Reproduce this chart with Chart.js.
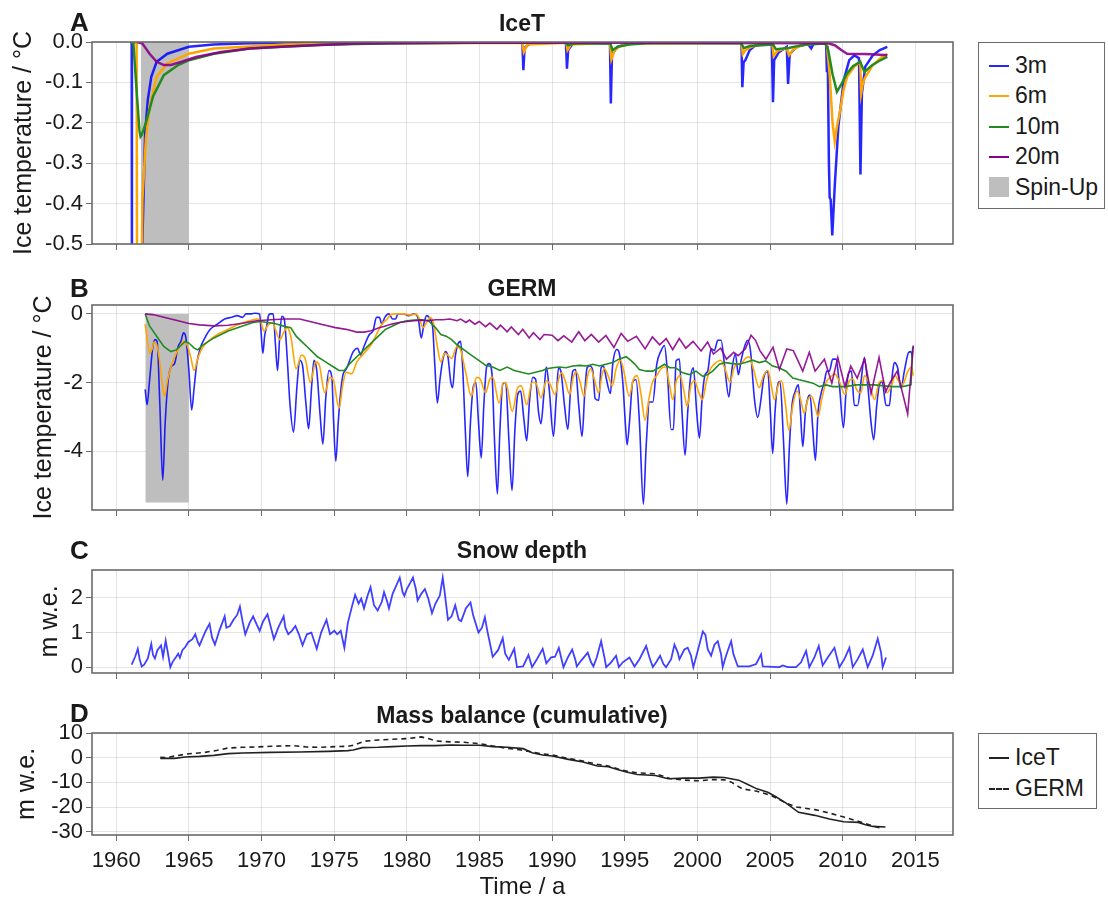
<!DOCTYPE html>
<html>
<head>
<meta charset="utf-8">
<script src="https://cdn.jsdelivr.net/npm/chart.js@4.4.1/dist/chart.umd.min.js"></script>
<style>
body { margin: 0; background: #fff; font-family: 'Liberation Sans', Arial, sans-serif; color: #1a1a1a; }
#hoja { position: relative; width: 1108px; height: 899px; overflow: hidden; }
canvas { position: absolute; left: 0; }
.letra { position: absolute; left: 70px; font-weight: bold; font-size: 26px; line-height: 26px; }
.titulo { position: absolute; left: 322px; width: 400px; text-align: center; font-weight: bold; font-size: 23px; line-height: 23px; }
.leyenda { position: absolute; box-sizing: border-box; border: 1.5px solid #6b6b6b; background: #fff; }
.muestra { position: absolute; left: 10px; width: 20px; height: 0; border-top: 2px solid; }
.cuadro { position: absolute; left: 10px; width: 20px; height: 20px; background: #bebebe; }
.texto { position: absolute; left: 36px; font-size: 23px; line-height: 23px; white-space: nowrap; }
</style>
</head>
<body>
<div id="hoja">
  <canvas id="panel_a" width="960" height="242" style="top:22px"></canvas>
  <canvas id="panel_b" width="960" height="245" style="top:285px"></canvas>
  <canvas id="panel_c" width="960" height="143" style="top:550px"></canvas>
  <canvas id="panel_d" width="960" height="186" style="top:713px"></canvas>

  <div class="letra" style="top:9px">A</div>
  <div class="titulo" style="top:12px">IceT</div>
  <div class="letra" style="top:275px">B</div>
  <div class="titulo" style="top:277px">GERM</div>
  <div class="letra" style="top:537px">C</div>
  <div class="titulo" style="top:539px">Snow depth</div>
  <div class="letra" style="top:700px">D</div>
  <div class="titulo" style="top:704px">Mass balance (cumulative)</div>

  <div class="leyenda" style="left:978px; top:42px; width:127px; height:167px">
    <div class="muestra" style="top:22px; border-color:rgba(0,0,255,0.85)"></div><div class="texto" style="top:11px">3m</div>
    <div class="muestra" style="top:52px; border-color:#ffa500"></div><div class="texto" style="top:41px">6m</div>
    <div class="muestra" style="top:83px; border-color:#228b22"></div><div class="texto" style="top:72px">10m</div>
    <div class="muestra" style="top:113px; border-color:#8b008b"></div><div class="texto" style="top:102px">20m</div>
    <div class="cuadro" style="top:134px"></div><div class="texto" style="top:133px">Spin-Up</div>
  </div>
  <div class="leyenda" style="left:978px; top:733px; width:119px; height:76px">
    <div class="muestra" style="top:23px; border-color:#222"></div><div class="texto" style="top:12px">IceT</div>
    <div class="muestra" style="top:54px; border-color:#222; border-top-style:dashed"></div><div class="texto" style="top:43px">GERM</div>
  </div>
</div>

<script>
/// ejes comunes
var anios_ticks = [1960, 1965, 1970, 1975, 1980, 1985, 1990, 1995, 2000, 2005, 2010, 2015];
var x_min = 1958.33;
var x_max = 2017.59;

var ticks_a = [0, -0.1, -0.2, -0.3, -0.4, -0.5];
var ticks_b = [0, -2, -4];
var ticks_c = [0, 1, 2];
var ticks_d = [10, 0, -10, -20, -30];

/// spin-up: [inicio, fin, fondo]
var spin_a = [1961.7, 1965.0, -0.5];
var spin_b = [1962.0, 1965.0, -5.5];

/// A - IceT, temperatura del hielo
var icet_3m = [[1961.0,0],[1961.06,-0.003],[1961.08,-0.6],[1961.72,-0.6],[1961.92,-0.32],[1961.99,-0.225],[1962.17,-0.143],[1962.41,-0.086],[1962.78,-0.049],[1963.52,-0.029],[1965.0,-0.012],[1966.7,-0.006],[1969.2,-0.003],[1975,-0.002],[1987.95,-0.002],[1988.02,-0.07],[1988.1,-0.015],[1988.4,-0.005],[1988.8,-0.002],[1990.95,-0.002],[1991.02,-0.066],[1991.1,-0.02],[1991.4,-0.005],[1991.8,-0.002],[1993.98,-0.003],[1994.04,-0.152],[1994.12,-0.03],[1994.5,-0.012],[1995.2,-0.004],[1997,-0.002],[2003.03,-0.002],[2003.09,-0.112],[2003.18,-0.05],[2003.3,-0.045],[2003.6,-0.02],[2004.0,-0.008],[2005.12,-0.004],[2005.2,-0.149],[2005.28,-0.045],[2005.6,-0.025],[2006.15,-0.012],[2006.24,-0.104],[2006.35,-0.03],[2006.8,-0.012],[2007.6,-0.005],[2007.83,-0.016],[2008.0,-0.004],[2008.86,-0.002],[2008.91,-0.075],[2008.96,-0.01],[2009.05,-0.3],[2009.1,-0.385],[2009.17,-0.39],[2009.28,-0.479],[2009.45,-0.357],[2009.7,-0.209],[2010.07,-0.094],[2010.45,-0.045],[2010.8,-0.033],[2011.12,-0.04],[2011.22,-0.328],[2011.32,-0.127],[2011.55,-0.061],[2012.07,-0.033],[2012.55,-0.02],[2013.07,-0.012]];
var icet_6m = [[1961.0,0],[1961.4,-0.003],[1961.43,-0.6],[1961.74,-0.6],[1961.8,-0.39],[1962.04,-0.24],[1962.29,-0.16],[1962.78,-0.086],[1963.52,-0.053],[1965.0,-0.029],[1966.72,-0.016],[1971.64,-0.006],[1979,-0.003],[1987.95,-0.002],[1988.05,-0.025],[1988.3,-0.006],[1990.98,-0.002],[1991.06,-0.02],[1991.3,-0.006],[1993.98,-0.002],[1994.08,-0.043],[1994.3,-0.02],[1994.7,-0.01],[1995.5,-0.004],[2003.03,-0.002],[2003.12,-0.03],[2003.3,-0.02],[2003.7,-0.012],[2004.3,-0.006],[2005.15,-0.004],[2005.25,-0.035],[2005.5,-0.022],[2006.15,-0.015],[2006.3,-0.033],[2006.6,-0.018],[2007.2,-0.008],[2008.0,-0.004],[2008.9,-0.003],[2009.1,-0.08],[2009.3,-0.2],[2009.45,-0.246],[2009.6,-0.21],[2009.83,-0.168],[2010.05,-0.12],[2010.3,-0.086],[2010.8,-0.061],[2011.2,-0.049],[2011.27,-0.127],[2011.4,-0.1],[2011.57,-0.086],[2012.07,-0.057],[2012.6,-0.04],[2013.07,-0.029]];
var icet_10m = [[1961.0,0],[1961.18,-0.003],[1961.4,-0.12],[1961.6,-0.22],[1961.67,-0.234],[1961.75,-0.23],[1962.04,-0.2],[1962.53,-0.135],[1963.27,-0.082],[1964.26,-0.057],[1965.0,-0.045],[1966.72,-0.029],[1969.18,-0.016],[1974.1,-0.007],[1979.0,-0.003],[1985,-0.002],[1990.95,-0.002],[1991.1,-0.008],[1991.5,-0.004],[1994.0,-0.003],[1994.15,-0.02],[1994.5,-0.012],[1995.3,-0.006],[1996.5,-0.003],[2003.0,-0.003],[2003.2,-0.015],[2003.6,-0.01],[2005.2,-0.006],[2005.4,-0.018],[2006.3,-0.015],[2006.6,-0.012],[2007.5,-0.006],[2008.8,-0.004],[2009.0,-0.02],[2009.3,-0.08],[2009.6,-0.123],[2009.9,-0.105],[2010.3,-0.078],[2010.7,-0.06],[2011.2,-0.049],[2011.5,-0.074],[2012.0,-0.058],[2012.5,-0.047],[2013.07,-0.037]];
var icet_20m = [[1961.43,0],[1961.8,-0.004],[1962.29,-0.029],[1962.78,-0.049],[1963.27,-0.057],[1963.76,-0.057],[1964.5,-0.049],[1965.49,-0.037],[1967.21,-0.025],[1969.18,-0.016],[1971.64,-0.011],[1976.56,-0.004],[1983.94,-0.002],[1995,-0.002],[2009.0,-0.003],[2009.45,-0.008],[2009.9,-0.02],[2010.3,-0.029],[2010.7,-0.03],[2011.5,-0.03],[2012.3,-0.031],[2013.07,-0.033]];

/// B - GERM, temperatura del hielo
var germ_3m = [[1961.99,-2.2],[1962.12,-2.65],[1962.29,-1.95],[1962.49,-1.05],[1962.66,-0.75],[1962.81,-0.8],[1963.0,-2.65],[1963.2,-4.85],[1963.37,-3.15],[1963.57,-1.95],[1963.76,-1.55],[1964.01,-1.45],[1964.26,-0.95],[1964.45,-0.8],[1964.63,-0.55],[1964.77,-0.65],[1965.0,-1.65],[1965.19,-2.8],[1965.36,-2.15],[1965.54,-1.45],[1965.78,-1.0],[1966.1,-0.7],[1966.47,-0.45],[1966.96,-0.3],[1967.46,-0.15],[1967.95,-0.1],[1968.32,-0.05],[1968.69,-0.1],[1968.93,0],[1969.3,0],[1969.55,0.02],[1969.87,0],[1969.97,-0.55],[1970.09,-1.15],[1970.21,-0.65],[1970.36,-0.35],[1970.48,-0.05],[1970.6,0],[1970.8,0],[1970.95,-0.85],[1971.1,-1.65],[1971.25,-0.65],[1971.39,-0.07],[1971.56,-0.15],[1971.76,-1.25],[1971.96,-2.65],[1972.2,-3.45],[1972.43,-2.15],[1972.62,-1.35],[1972.82,-1.5],[1973.04,-2.55],[1973.24,-3.35],[1973.44,-2.15],[1973.61,-1.35],[1973.8,-1.65],[1974.03,-2.95],[1974.22,-3.8],[1974.42,-2.45],[1974.64,-1.65],[1974.84,-1.85],[1974.96,-3.15],[1975.11,-4.3],[1975.28,-3.15],[1975.45,-2.25],[1975.62,-1.75],[1975.77,-1.65],[1975.94,-1.5],[1976.31,-1.1],[1976.61,-1.0],[1976.81,-1.2],[1977.05,-0.95],[1977.42,-0.6],[1977.67,-0.5],[1977.91,-0.1],[1978.11,-0.1],[1978.28,-0.3],[1978.48,-0.1],[1978.77,0],[1979.02,-0.15],[1979.22,-0.15],[1979.39,0],[1979.76,0],[1980.13,-0.05],[1980.5,0],[1980.79,-0.15],[1980.99,-0.7],[1981.19,-0.25],[1981.36,-0.05],[1981.6,-0.15],[1981.78,-0.4],[1981.92,-1.45],[1982.1,-2.6],[1982.27,-1.95],[1982.47,-1.35],[1982.66,-1.1],[1982.83,-1.25],[1983.01,-1.95],[1983.15,-2.15],[1983.33,-1.25],[1983.5,-0.9],[1983.7,-0.8],[1983.84,-1.55],[1984.02,-3.35],[1984.19,-4.75],[1984.38,-3.15],[1984.56,-2.15],[1984.75,-2.0],[1984.93,-3.15],[1985.12,-4.2],[1985.3,-2.65],[1985.49,-1.55],[1985.66,-1.45],[1985.86,-1.75],[1986.03,-3.65],[1986.23,-5.25],[1986.4,-3.45],[1986.6,-2.05],[1986.8,-2.0],[1987.02,-3.65],[1987.24,-5.15],[1987.44,-3.35],[1987.63,-2.35],[1987.83,-2.25],[1988.05,-3.05],[1988.25,-3.7],[1988.44,-2.55],[1988.67,-1.85],[1988.86,-1.9],[1989.06,-2.85],[1989.23,-3.2],[1989.43,-2.35],[1989.6,-1.55],[1989.8,-2.2],[1990.09,-3.57],[1990.28,-2.47],[1990.44,-1.57],[1990.6,-1.67],[1990.85,-2.67],[1991.08,-3.37],[1991.26,-2.27],[1991.42,-1.67],[1991.61,-1.62],[1991.83,-2.67],[1992.06,-3.57],[1992.25,-2.27],[1992.41,-1.57],[1992.61,-1.52],[1992.8,-1.67],[1992.96,-2.47],[1993.21,-2.52],[1993.37,-1.57],[1993.53,-1.52],[1993.72,-1.87],[1994.01,-2.32],[1994.17,-1.47],[1994.45,-1.04],[1994.63,-1.17],[1994.86,-1.97],[1995.05,-3.27],[1995.16,-3.82],[1995.32,-3.17],[1995.55,-1.97],[1995.78,-1.92],[1996.01,-3.17],[1996.28,-5.55],[1996.47,-3.87],[1996.7,-2.57],[1996.93,-2.57],[1997.2,-1.47],[1997.5,-1.07],[1997.73,-0.92],[1997.91,-1.57],[1998.19,-3.37],[1998.35,-3.37],[1998.53,-1.37],[1998.76,-1.32],[1998.94,-2.87],[1999.15,-4.12],[1999.33,-2.87],[1999.52,-1.87],[1999.72,-1.57],[1999.95,-2.87],[2000.14,-3.62],[2000.32,-2.47],[2000.53,-1.77],[2000.71,-1.67],[2000.94,-1.02],[2001.17,-1.07],[2001.4,-0.77],[2001.63,-0.77],[2001.86,-1.47],[2002.16,-2.42],[2002.39,-1.57],[2002.61,-1.17],[2002.82,-1.77],[2003.0,-1.37],[2003.23,-0.97],[2003.46,-0.77],[2003.65,-1.07],[2003.92,-2.47],[2004.15,-3.02],[2004.38,-2.47],[2004.56,-1.87],[2004.84,-1.67],[2005.02,-2.87],[2005.18,-4.07],[2005.34,-2.87],[2005.48,-2.17],[2005.69,-1.97],[2005.92,-3.67],[2006.15,-5.55],[2006.33,-3.87],[2006.51,-2.67],[2006.72,-2.27],[2006.95,-2.07],[2007.09,-2.87],[2007.25,-3.87],[2007.43,-2.87],[2007.59,-2.47],[2007.75,-2.37],[2007.94,-3.37],[2008.12,-4.27],[2008.3,-2.87],[2008.51,-2.32],[2008.74,-1.97],[2008.9,-1.67],[2009.08,-1.67],[2009.31,-1.32],[2009.54,-1.32],[2009.77,-2.07],[2010.05,-3.32],[2010.23,-2.27],[2010.41,-1.72],[2010.6,-1.67],[2010.8,-2.67],[2011.03,-2.67],[2011.26,-1.97],[2011.49,-1.27],[2011.72,-2.07],[2011.95,-3.17],[2012.13,-3.67],[2012.34,-2.67],[2012.52,-2.07],[2012.71,-1.97],[2012.98,-2.67],[2013.21,-2.67],[2013.39,-1.87],[2013.55,-1.42],[2013.78,-1.57],[2014.01,-2.17],[2014.24,-1.67],[2014.54,-1.12],[2014.7,-1.1],[2014.8,-1.3]];
var germ_6m = [[1961.99,-0.3],[1962.12,-0.7],[1962.29,-1.15],[1962.44,-1.05],[1962.61,-0.83],[1962.78,-0.9],[1962.98,-1.35],[1963.17,-2.05],[1963.32,-2.4],[1963.52,-1.95],[1963.76,-1.55],[1964.13,-1.15],[1964.38,-0.95],[1964.63,-0.8],[1964.87,-0.9],[1965.12,-1.25],[1965.36,-1.65],[1965.61,-1.3],[1965.98,-0.95],[1966.47,-0.75],[1966.96,-0.6],[1967.7,-0.45],[1968.44,-0.3],[1969.18,-0.2],[1969.72,-0.15],[1969.97,-0.25],[1970.16,-0.5],[1970.41,-0.35],[1970.78,-0.25],[1970.95,-0.45],[1971.27,-0.75],[1971.52,-0.55],[1971.76,-0.4],[1972.01,-0.65],[1972.38,-1.6],[1972.75,-1.2],[1973.0,-1.3],[1973.36,-2.0],[1973.73,-1.4],[1973.98,-1.5],[1974.35,-2.3],[1974.71,-1.85],[1974.96,-1.95],[1975.33,-2.75],[1975.58,-2.1],[1975.82,-1.7],[1976.19,-1.75],[1976.56,-1.4],[1977.05,-1.15],[1977.54,-0.9],[1977.91,-0.6],[1978.28,-0.3],[1978.65,-0.15],[1978.9,-0.02],[1979.27,0],[1979.76,0],[1980.25,-0.03],[1980.62,0],[1980.87,-0.15],[1981.11,-0.4],[1981.36,-0.25],[1981.6,-0.1],[1981.85,-0.3],[1982.1,-0.95],[1982.34,-1.4],[1982.59,-1.15],[1982.83,-1.2],[1983.08,-1.3],[1983.45,-0.95],[1983.7,-1.05],[1984.07,-1.75],[1984.43,-2.4],[1984.8,-1.85],[1985.05,-1.9],[1985.42,-2.3],[1985.71,-1.9],[1985.91,-1.85],[1986.35,-2.6],[1986.65,-2.0],[1986.85,-2.05],[1987.26,-2.85],[1987.63,-2.15],[1987.88,-2.1],[1988.25,-2.65],[1988.62,-2.0],[1988.86,-2.0],[1989.23,-2.45],[1989.6,-1.95],[1989.85,-2.05],[1990.2,-2.35],[1990.45,-1.9],[1990.65,-1.72],[1990.9,-1.95],[1991.2,-2.35],[1991.45,-1.85],[1991.65,-1.68],[1991.9,-1.95],[1992.2,-2.4],[1992.45,-1.8],[1992.65,-1.6],[1992.9,-1.9],[1993.2,-2.3],[1993.45,-1.75],[1993.6,-1.6],[1993.85,-1.8],[1994.15,-2.1],[1994.4,-1.6],[1994.7,-1.35],[1994.95,-1.7],[1995.3,-2.4],[1995.6,-1.9],[1995.85,-1.8],[1996.1,-2.3],[1996.4,-3.1],[1996.65,-2.5],[1996.9,-2.0],[1997.2,-1.8],[1997.5,-1.6],[1997.8,-1.55],[1998.05,-2.0],[1998.3,-2.5],[1998.55,-1.95],[1998.8,-1.8],[1999.05,-2.2],[1999.3,-2.7],[1999.55,-2.1],[1999.8,-1.95],[2000.1,-2.3],[2000.35,-2.5],[2000.6,-2.0],[2000.9,-1.6],[2001.2,-1.45],[2001.6,-1.35],[2001.9,-1.6],[2002.25,-2.0],[2002.5,-1.6],[2002.75,-1.45],[2003.0,-1.45],[2003.3,-1.3],[2003.55,-1.25],[2003.85,-1.6],[2004.25,-2.15],[2004.55,-1.8],[2004.85,-1.65],[2005.05,-2.0],[2005.3,-2.5],[2005.55,-2.1],[2005.8,-1.95],[2006.05,-2.6],[2006.3,-3.4],[2006.55,-2.7],[2006.85,-2.25],[2007.1,-2.5],[2007.35,-2.9],[2007.6,-2.5],[2007.85,-2.4],[2008.1,-2.7],[2008.3,-3.0],[2008.55,-2.5],[2008.85,-2.0],[2009.15,-1.85],[2009.45,-1.75],[2009.75,-1.95],[2010.15,-2.35],[2010.45,-1.95],[2010.7,-1.9],[2010.95,-2.2],[2011.25,-2.3],[2011.5,-1.8],[2011.8,-2.0],[2012.2,-2.5],[2012.5,-2.0],[2012.75,-1.95],[2013.05,-2.3],[2013.35,-2.1],[2013.6,-1.8],[2013.9,-2.0],[2014.15,-2.05],[2014.45,-1.7],[2014.75,-1.55],[2014.85,-1.8]];
var germ_10m = [[1961.99,0],[1962.29,-0.35],[1962.78,-0.65],[1963.27,-0.95],[1963.76,-1.1],[1964.13,-1.05],[1964.5,-0.9],[1964.75,-0.8],[1965.0,-0.85],[1965.36,-1.0],[1965.61,-1.05],[1965.98,-0.9],[1966.72,-0.7],[1967.7,-0.5],[1968.69,-0.35],[1969.42,-0.25],[1969.92,-0.22],[1970.41,-0.25],[1970.9,-0.28],[1971.64,-0.37],[1972.01,-0.4],[1972.38,-0.65],[1972.75,-0.8],[1973.12,-0.95],[1973.48,-1.1],[1973.85,-1.25],[1974.22,-1.35],[1974.59,-1.45],[1974.96,-1.55],[1975.33,-1.65],[1975.7,-1.65],[1976.07,-1.45],[1976.56,-1.25],[1977.05,-1.05],[1977.54,-0.85],[1978.04,-0.65],[1978.53,-0.45],[1979.02,-0.35],[1979.51,-0.25],[1980.0,-0.2],[1980.5,-0.18],[1980.99,-0.17],[1981.48,-0.2],[1981.97,-0.4],[1982.34,-0.6],[1982.71,-0.65],[1983.08,-0.75],[1983.45,-0.9],[1983.94,-1.05],[1984.43,-1.2],[1984.93,-1.35],[1985.42,-1.5],[1985.91,-1.55],[1986.4,-1.65],[1986.9,-1.55],[1987.39,-1.65],[1987.88,-1.7],[1988.37,-1.75],[1988.86,-1.7],[1989.35,-1.65],[1989.6,-1.6],[1990.05,-1.57],[1990.5,-1.55],[1990.95,-1.57],[1991.42,-1.52],[1991.9,-1.5],[1992.35,-1.52],[1992.8,-1.47],[1993.25,-1.52],[1993.7,-1.47],[1994.17,-1.42],[1994.6,-1.32],[1995.09,-1.25],[1995.4,-1.35],[1995.7,-1.47],[1996.0,-1.62],[1996.5,-1.67],[1996.93,-1.67],[1997.35,-1.57],[1997.73,-1.47],[1998.1,-1.57],[1998.5,-1.57],[1998.99,-1.72],[1999.45,-1.77],[1999.9,-1.67],[2000.37,-1.82],[2000.7,-1.77],[2001.05,-1.67],[2001.51,-1.47],[2001.95,-1.42],[2002.4,-1.45],[2002.85,-1.47],[2003.3,-1.42],[2003.8,-1.35],[2004.25,-1.42],[2004.7,-1.37],[2005.18,-1.52],[2005.6,-1.57],[2006.1,-1.67],[2006.56,-1.87],[2007.0,-1.92],[2007.5,-1.97],[2007.95,-2.02],[2008.39,-2.12],[2008.85,-2.07],[2009.3,-2.12],[2009.77,-2.12],[2010.2,-2.12],[2010.9,-2.07],[2011.6,-2.07],[2012.2,-2.07],[2012.8,-2.1],[2013.44,-2.12],[2014.1,-2.12],[2014.7,-2.07],[2014.82,-0.95]];
var germ_20m = [[1961.99,0],[1962.53,-0.02],[1963.27,-0.1],[1964.26,-0.2],[1965.0,-0.28],[1965.73,-0.32],[1966.72,-0.35],[1967.7,-0.33],[1968.69,-0.27],[1969.67,-0.2],[1970.65,-0.17],[1971.64,-0.15],[1972.62,-0.15],[1973.12,-0.2],[1973.61,-0.25],[1974.1,-0.3],[1975.08,-0.4],[1975.82,-0.45],[1976.56,-0.53],[1977.05,-0.53],[1977.54,-0.49],[1978.04,-0.41],[1978.53,-0.35],[1979.02,-0.29],[1979.51,-0.25],[1980.0,-0.22],[1980.5,-0.2],[1980.99,-0.18],[1981.48,-0.2],[1981.97,-0.17],[1982.47,-0.17],[1982.96,-0.15],[1983.45,-0.2],[1983.7,-0.15],[1984.07,-0.25],[1984.31,-0.18],[1984.68,-0.3],[1984.98,-0.22],[1985.42,-0.37],[1985.71,-0.27],[1986.2,-0.45],[1986.45,-0.33],[1986.9,-0.52],[1987.19,-0.38],[1987.68,-0.6],[1987.98,-0.45],[1988.42,-0.7],[1988.71,-0.55],[1989.16,-0.75],[1989.45,-0.6],[1990.0,-0.62],[1990.4,-0.78],[1990.8,-0.64],[1991.35,-0.82],[1991.83,-0.52],[1992.25,-0.78],[1992.7,-0.6],[1993.2,-0.82],[1993.7,-0.63],[1994.25,-0.98],[1994.75,-0.57],[1995.2,-0.8],[1995.8,-0.65],[1996.4,-1.02],[1996.9,-0.67],[1997.4,-0.9],[1997.85,-0.72],[1998.3,-1.04],[1998.75,-0.72],[1999.2,-1.0],[1999.7,-0.8],[2000.25,-1.08],[2000.7,-0.82],[2001.1,-1.17],[2001.6,-1.0],[2002.0,-1.32],[2002.5,-1.12],[2002.8,-1.22],[2003.3,-1.02],[2003.69,-0.62],[2004.0,-0.77],[2004.3,-1.07],[2004.72,-1.32],[2005.2,-0.97],[2005.64,-1.62],[2006.15,-1.02],[2006.6,-1.07],[2007.25,-1.67],[2007.7,-1.12],[2008.1,-1.67],[2008.74,-1.32],[2009.25,-2.02],[2009.66,-1.27],[2010.15,-2.12],[2010.55,-1.52],[2011.0,-1.87],[2011.5,-1.32],[2011.95,-2.32],[2012.5,-1.27],[2012.95,-2.27],[2013.3,-1.97],[2013.75,-1.67],[2014.47,-2.92],[2014.86,-0.92]];

/// C - espesor de nieve
var nieve = [[1961.06,0.07],[1961.3,0.3],[1961.48,0.53],[1961.6,0.25],[1961.75,0.02],[1961.92,0.07],[1962.17,0.25],[1962.41,0.67],[1962.53,0.35],[1962.66,0.25],[1962.83,0.49],[1963.08,0.63],[1963.22,0.3],[1963.4,0.77],[1963.52,0.49],[1963.72,0.0],[1963.89,0.16],[1964.13,0.3],[1964.26,0.39],[1964.38,0.27],[1964.55,0.49],[1964.75,0.58],[1964.95,0.72],[1965.24,0.81],[1965.44,0.95],[1965.61,0.72],[1965.73,0.63],[1966.1,1.0],[1966.27,1.14],[1966.42,1.25],[1966.59,0.86],[1966.79,0.65],[1967.09,1.05],[1967.46,1.47],[1967.58,1.14],[1967.82,1.19],[1968.07,1.37],[1968.32,1.51],[1968.51,1.75],[1968.69,1.33],[1968.88,0.95],[1969.18,1.28],[1969.42,1.47],[1969.67,1.23],[1969.87,1.05],[1970.11,1.33],[1970.41,1.53],[1970.65,1.14],[1970.85,0.81],[1971.15,1.14],[1971.52,1.47],[1971.64,1.14],[1971.84,0.95],[1972.08,1.05],[1972.33,1.19],[1972.57,0.95],[1972.82,0.63],[1973.12,0.95],[1973.43,1.0],[1973.61,0.77],[1973.8,0.53],[1974.1,1.0],[1974.47,1.37],[1974.71,0.95],[1975.01,1.05],[1975.21,0.95],[1975.45,1.05],[1975.7,0.56],[1975.94,1.28],[1976.19,1.7],[1976.44,2.09],[1976.68,1.84],[1976.86,1.98],[1977.05,1.7],[1977.3,2.07],[1977.5,2.31],[1977.74,1.79],[1977.99,1.64],[1978.28,1.89],[1978.43,2.17],[1978.65,1.89],[1978.77,1.7],[1979.02,2.12],[1979.27,2.36],[1979.51,2.59],[1979.71,2.17],[1979.83,2.06],[1980.0,2.26],[1980.25,2.45],[1980.42,2.59],[1980.62,2.26],[1980.74,1.93],[1980.99,2.12],[1981.24,2.26],[1981.48,1.98],[1981.73,1.56],[1981.97,1.84],[1982.27,2.07],[1982.47,2.59],[1982.59,2.21],[1982.83,1.37],[1983.08,1.47],[1983.33,1.79],[1983.57,1.37],[1983.74,1.33],[1984.06,1.7],[1984.38,1.87],[1984.56,1.51],[1984.93,1.0],[1985.17,1.14],[1985.37,1.44],[1985.54,1.05],[1985.91,0.3],[1986.28,0.49],[1986.6,0.84],[1986.77,0.39],[1987.02,0.21],[1987.39,0.53],[1987.58,0.0],[1988.0,0.02],[1988.37,0.35],[1988.62,0.0],[1988.98,0.25],[1989.35,0.53],[1989.6,0.11],[1989.93,0.28],[1990.2,0.3],[1990.46,0.56],[1990.62,0.28],[1990.78,0],[1991.08,0.28],[1991.38,0.51],[1991.61,0.19],[1991.7,0.02],[1992.0,0.19],[1992.45,0.42],[1992.68,0.14],[1992.84,0.02],[1993.07,0.28],[1993.37,0.75],[1993.6,0.28],[1993.72,0],[1994.06,0.14],[1994.4,0.33],[1994.59,0],[1994.86,0.14],[1995.32,0.28],[1995.67,0.02],[1996.01,0.23],[1996.47,0.61],[1996.7,0.28],[1996.93,0],[1997.16,0.14],[1997.43,0.33],[1997.66,0.09],[1997.84,0],[1998.19,0.23],[1998.42,0.65],[1998.65,0.42],[1998.76,0.23],[1999.1,0.51],[1999.33,0.56],[1999.56,0.33],[1999.72,0],[2000.02,0.47],[2000.37,1.03],[2000.55,0.93],[2000.71,0.51],[2000.94,0.33],[2001.17,0.65],[2001.4,0.75],[2001.63,0.37],[2001.74,0],[2001.97,0.33],[2002.2,0.61],[2002.32,0.75],[2002.48,0.37],[2002.78,0.02],[2003.58,0.02],[2004.04,0.09],[2004.38,0.37],[2004.5,0.02],[2005.64,0],[2005.87,0.05],[2006.22,0],[2006.79,0],[2007.13,0.14],[2007.48,0.47],[2007.7,0],[2008.05,0.28],[2008.35,0.61],[2008.62,0.05],[2008.97,0.28],[2009.43,0.56],[2009.77,0],[2010.11,0.23],[2010.46,0.56],[2010.69,0],[2011.03,0.23],[2011.38,0.51],[2011.72,0],[2012.06,0.33],[2012.41,0.82],[2012.64,0.42],[2012.75,0],[2012.87,0.14],[2012.98,0.28]];

/// D - balance de masa acumulado
var balance_icet = [[1963.03,-0.27],[1964.01,-0.27],[1964.75,0.27],[1965.73,0.54],[1966.72,0.95],[1967.7,1.63],[1968.69,1.9],[1970.65,2.17],[1972.62,2.31],[1974.59,2.58],[1975.94,2.85],[1976.31,3.12],[1976.93,4.07],[1978.04,4.21],[1979.02,4.48],[1980.0,4.75],[1980.99,4.88],[1981.97,4.88],[1983.08,5.16],[1983.94,5.02],[1985.0,5.02],[1985.91,4.48],[1986.9,4.21],[1988.01,3.66],[1988.62,2.04],[1989.35,1.09],[1990.0,0.68],[1991.12,-0.68],[1992.12,-1.76],[1993.12,-3.39],[1993.87,-3.66],[1994.49,-4.75],[1995.11,-5.83],[1995.86,-6.78],[1997.11,-7.19],[1997.98,-8.55],[1999.1,-8.28],[2000.1,-8.28],[2001.1,-7.87],[2001.85,-8.0],[2002.84,-9.09],[2003.47,-10.85],[2004.09,-12.62],[2004.84,-13.98],[2005.34,-15.6],[2006.08,-18.32],[2006.96,-22.12],[2008.08,-23.34],[2009.08,-24.83],[2010.07,-25.92],[2011.07,-26.19],[2011.57,-27.14],[2012.07,-27.82],[2012.94,-28.09]];
var balance_germ = [[1963.03,0.14],[1963.52,0],[1964.01,0.68],[1965.0,1.63],[1965.98,2.04],[1966.96,2.99],[1967.7,3.93],[1968.69,4.21],[1969.67,4.34],[1970.65,4.61],[1972.13,4.88],[1973.12,4.34],[1974.1,4.21],[1975.08,4.48],[1975.94,4.61],[1976.31,5.02],[1977.05,6.65],[1978.04,7.19],[1979.02,7.46],[1980.0,7.73],[1980.99,8.41],[1981.48,7.73],[1981.97,6.78],[1983.08,6.38],[1983.94,6.24],[1985.0,5.7],[1985.91,4.75],[1986.9,3.8],[1987.88,3.12],[1988.62,2.31],[1989.35,1.49],[1990.0,1.09],[1991.12,-0.27],[1992.12,-1.36],[1993.12,-2.71],[1993.87,-3.39],[1994.49,-4.48],[1995.11,-5.43],[1995.86,-6.11],[1997.11,-6.51],[1998.1,-8.41],[1999.1,-9.09],[2000.1,-9.36],[2001.1,-8.82],[2001.85,-8.96],[2002.34,-9.9],[2003.09,-12.62],[2004.09,-13.57],[2005.09,-15.33],[2006.08,-18.32],[2006.83,-19.95],[2008.08,-21.03],[2009.08,-22.39],[2010.07,-24.02],[2011.07,-25.78],[2011.82,-27.14],[2012.32,-28.09],[2012.69,-28.49]];

var color_texto = '#1a1a1a';
var color_borde = '#6b6b6b';
var color_grilla = 'rgba(0,0,0,0.1)';
var gris_spin = '#bebebe';

Chart.defaults.font.family = "'Liberation Sans', Arial, sans-serif";
Chart.defaults.color = color_texto;

function a_puntos(pares) {
    return pares.map(function (p) { return { x: p[0], y: p[1] }; });
}

function serie(pares, color, ancho, orden, guiones, suave) {
    var s = {
        data: a_puntos(pares),
        borderColor: color,
        borderWidth: ancho,
        borderDash: guiones || [],
        pointRadius: 0,
        fill: false,
        tension: 0,
        order: orden
    };
    if (suave) { s.cubicInterpolationMode = 'monotone'; }
    return s;
}

function caja_spin(spin) {
    return {
        data: [{ x: spin[0], y: 0 }, { x: spin[1], y: 0 }],
        borderWidth: 0,
        pointRadius: 0,
        backgroundColor: gris_spin,
        fill: { value: spin[2] },
        order: 10
    };
}

// marco gris alrededor del area de datos
var marco_panel = {
    id: 'marco_panel',
    afterDraw: function (chart) {
        var a = chart.chartArea, ctx = chart.ctx;
        ctx.save();
        ctx.strokeStyle = color_borde;
        ctx.lineWidth = 1.6;
        ctx.strokeRect(a.left, a.top, a.right - a.left, a.bottom - a.top);
        ctx.restore();
    }
};

function crear_panel(id, cfg) {
    return new Chart(document.getElementById(id), {
        type: 'line',
        data: { datasets: cfg.series },
        options: {
            responsive: false,
            animation: false,
            devicePixelRatio: 1,
            layout: { padding: { top: 20, right: 7, left: 0, bottom: 0 } },
            plugins: { legend: { display: false }, tooltip: { enabled: false } },
            scales: {
                x: {
                    type: 'linear',
                    min: x_min,
                    max: x_max,
                    afterBuildTicks: function (s) {
                        s.ticks = anios_ticks.map(function (v) { return { value: v }; });
                    },
                    afterFit: function (s) { s.height = cfg.alto_x; },
                    border: { display: false },
                    grid: { color: color_grilla, tickColor: color_borde, tickLength: 6, lineWidth: 1 },
                    ticks: {
                        display: cfg.etiquetas_x,
                        autoSkip: false,
                        maxRotation: 0,
                        padding: 7,
                        font: { size: 22 },
                        color: color_texto,
                        callback: function (v) { return String(v); }
                    },
                    title: {
                        display: !!cfg.titulo_x,
                        text: cfg.titulo_x || '',
                        font: { size: 24, lineHeight: 1 },
                        padding: { top: 0, bottom: 0 },
                        color: color_texto
                    }
                },
                y: {
                    type: 'linear',
                    min: cfg.y_min,
                    max: cfg.y_max,
                    afterBuildTicks: function (s) {
                        s.ticks = cfg.y_ticks.map(function (v) { return { value: v }; });
                    },
                    afterFit: function (s) { s.width = 92; },
                    border: { display: false },
                    grid: { color: color_grilla, tickColor: color_borde, tickLength: 6, lineWidth: 1 },
                    ticks: {
                        autoSkip: false,
                        padding: 3,
                        font: { size: 22 },
                        color: color_texto,
                        callback: cfg.formato
                    },
                    title: {
                        display: true,
                        text: cfg.titulo_y,
                        font: { size: 25, lineHeight: 1 },
                        padding: { top: cfg.pad_titulo_y, bottom: 0 },
                        color: color_texto
                    }
                }
            }
        },
        plugins: [marco_panel]
    });
}

var azul = 'rgba(0,0,255,0.85)';
var naranja = '#ffa500';
var verde = '#228b22';
var morado = 'rgba(139,0,139,0.9)';

crear_panel('panel_a', {
    series: [
        caja_spin(spin_a),
        serie(icet_3m, azul, 2.5, 4),
        serie(icet_6m, naranja, 2.5, 3),
        serie(icet_10m, verde, 2.5, 2),
        serie(icet_20m, morado, 2.5, 1)
    ],
    y_min: -0.5, y_max: 0, y_ticks: ticks_a,
    formato: function (v) { return v.toFixed(1); },
    titulo_y: 'Ice temperature / °C', pad_titulo_y: 12,
    alto_x: 20, etiquetas_x: false
});

crear_panel('panel_b', {
    series: [
        caja_spin(spin_b),
        serie(germ_3m, azul, 1.6, 4, null, true),
        serie(germ_6m, naranja, 1.6, 3, null, true),
        serie(germ_10m, verde, 1.6, 2),
        serie(germ_20m, morado, 1.6, 1)
    ],
    y_min: -5.72, y_max: 0.26, y_ticks: ticks_b,
    formato: function (v) { return String(v); },
    titulo_y: 'Ice temperature / °C', pad_titulo_y: 32,
    alto_x: 20, etiquetas_x: false
});

crear_panel('panel_c', {
    series: [ serie(nieve, 'rgba(0,0,255,0.75)', 1.8, 1) ],
    y_min: -0.17, y_max: 2.81, y_ticks: ticks_c,
    formato: function (v) { return String(v); },
    titulo_y: 'm w.e.', pad_titulo_y: 38,
    alto_x: 20, etiquetas_x: false
});

crear_panel('panel_d', {
    series: [
        serie(balance_icet, '#222', 1.6, 2),
        serie(balance_germ, '#222', 1.6, 1, [5, 4])
    ],
    y_min: -31.3, y_max: 10, y_ticks: ticks_d,
    formato: function (v) { return String(v); },
    titulo_y: 'm w.e.', pad_titulo_y: 15,
    alto_x: 64, etiquetas_x: true, titulo_x: 'Time / a'
});
</script>
</body>
</html>
